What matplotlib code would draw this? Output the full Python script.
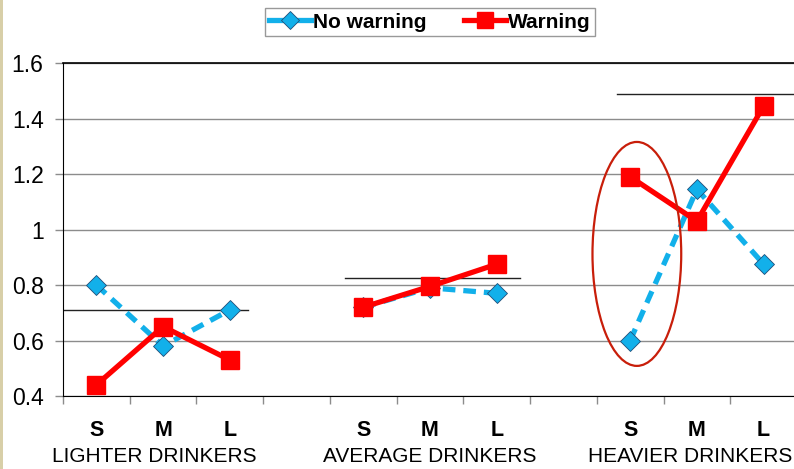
import numpy as np
import matplotlib.pyplot as plt
from matplotlib.lines import Line2D
from matplotlib.patches import Ellipse, Rectangle
from matplotlib.transforms import blended_transform_factory

plt.rcParams["font.family"] = ["Liberation Sans", "DejaVu Sans"]

# 11 slots: 3 per group plus a blank slot between groups
sizes = ["S", "M", "L", "", "S", "M", "L", "", "S", "M", "L"]
groups = ["LIGHTER DRINKERS", "AVERAGE DRINKERS", "HEAVIER DRINKERS"]
group_centers = [0.87, 5.0, 8.9]
no_warning = [0.80, 0.58, 0.71, np.nan, 0.72, 0.79, 0.77, np.nan, 0.60, 1.145, 0.875]
warning = [0.44, 0.65, 0.53, np.nan, 0.72, 0.795, 0.875, np.nan, 1.19, 1.03, 1.445]
# group means drawn as thin horizontal lines (x start, x end, y)
mean_lines = [(-0.5, 2.27, 0.71), (3.72, 6.35, 0.825), (7.8, 10.5, 1.49)]

blue = "#12B0EA"
red = "#FF0000"

fig = plt.figure(figsize=(7.94, 4.69), dpi=100)
ax = fig.add_axes([63 / 794, 73 / 469, 734 / 794, 333 / 469])

x = np.arange(len(sizes))
ax.plot(x, no_warning, color=blue, linestyle=(0, (2.4, 1.5)), linewidth=3.8,
        marker="D", markersize=10, markerfacecolor=blue, markeredgecolor="#1F4E79",
        markeredgewidth=0.6, zorder=3)
ax.plot(x, warning, color=red, linewidth=3.8, marker="s", markersize=13,
        markerfacecolor=red, markeredgecolor=red, zorder=4)

for x0, x1, y in mean_lines:
    ax.plot([x0, x1], [y, y], color="#222222", linewidth=1.0, zorder=2)

ax.add_patch(Ellipse((8.1, 0.912), 1.33, 0.807, fill=False, edgecolor="#C81E0A",
                     linewidth=1.6, zorder=5))

ax.set_xlim(-0.5, 10.5)
ax.set_ylim(0.4, 1.6)
ax.set_yticks([0.4, 0.6, 0.8, 1.0, 1.2, 1.4, 1.6])
ax.set_yticklabels(["0.4", "0.6", "0.8", "1", "1.2", "1.4", "1.6"])
ax.grid(True, axis="y", color="#8C8C8C", linewidth=1.0)
ax.set_axisbelow(True)
ax.set_xticks(np.arange(-0.5, 10.6, 1.0))
ax.set_xticklabels([])
ax.tick_params(axis="x", length=6, color="#8C8C8C", width=1)
ax.tick_params(axis="y", length=6, color="#8C8C8C", width=1, pad=8, labelsize=16.5)
ax.spines["right"].set_visible(False)
for side in ["top", "left", "bottom"]:
    ax.spines[side].set_color("black")
ax.spines["top"].set_linewidth(1.2)

trans = blended_transform_factory(ax.transData, ax.transAxes)
for xi, s in zip(x, sizes):
    if s:
        ax.text(xi, -0.105, s, transform=trans, ha="center", va="center",
                fontsize=15.5, fontweight="bold")
for gc, g in zip(group_centers, groups):
    ax.text(gc, -0.183, g, transform=trans, ha="center", va="center", fontsize=15)

# legend handles are drawn solid, as in the original
handles = [
    Line2D([], [], color=blue, linewidth=3.8, marker="D", markersize=9,
           markerfacecolor=blue, markeredgecolor="#1F4E79", markeredgewidth=0.6),
    Line2D([], [], color=red, linewidth=3.8, marker="s", markersize=11,
           markerfacecolor=red, markeredgecolor=red),
]
fig.legend(handles, ["No warning", "Warning"], loc="center",
           bbox_to_anchor=(430 / 794, 1 - 22 / 469), ncol=2,
           frameon=True, fancybox=False, edgecolor="#808080",
           prop={"weight": "bold", "size": 15}, handlelength=2.0,
           columnspacing=1.8, borderpad=0.2, handletextpad=0.1)

# beige strip on the left edge
fig.patches.append(Rectangle((0, 0), 3 / 794, 1, transform=fig.transFigure,
                             facecolor="#D8CFA8", edgecolor="none"))

fig.savefig("out.png", dpi=100)
